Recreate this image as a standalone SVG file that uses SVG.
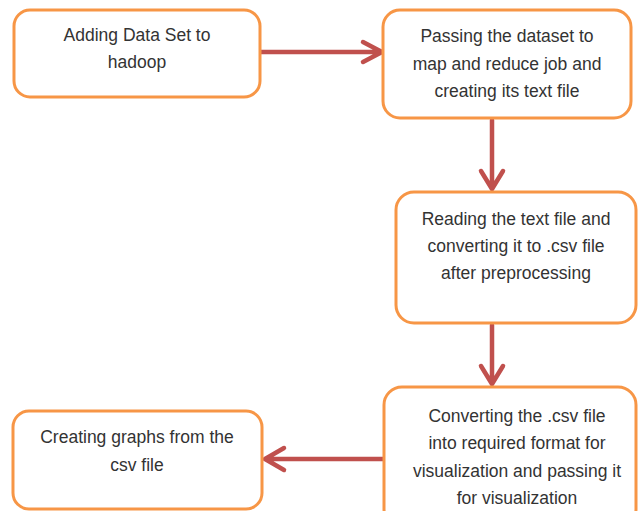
<svg xmlns="http://www.w3.org/2000/svg" width="638" height="511" viewBox="0 0 638 511">
<defs>
<style>
.box{fill:#ffffff;stroke:#F79646;stroke-width:3}
.lbl{font-family:"Liberation Sans",Arial,sans-serif;font-size:17.5px;fill:#333333;text-anchor:middle}
.conn{stroke:#C0504D;stroke-width:4.5;fill:none;stroke-linecap:round;stroke-linejoin:round}
</style>
</defs>
<rect width="638" height="511" fill="#ffffff"/>
<g id="connectors">
<path class="conn" d="M261 52 H381 M363 42 L382 52 L363 62"/>
<path class="conn" d="M492 120 V189 M481 171 L492 189 L503 171"/>
<path class="conn" d="M492 325 V384 M481 366 L492 384 L503 366"/>
<path class="conn" d="M383 459 H266 M284 448 L265 459 L284 470"/>
</g>
<g id="node1">
<rect class="box" x="14" y="10" width="246" height="87" rx="16"/>
<text class="lbl" x="137" y="41">Adding Data Set to</text>
<text class="lbl" x="137" y="68">hadoop</text>
</g>
<g id="node2">
<rect class="box" x="383" y="10" width="248" height="108" rx="17"/>
<text class="lbl" x="507" y="42">Passing the dataset to</text>
<text class="lbl" x="507" y="70">map and reduce job and</text>
<text class="lbl" x="507" y="97">creating its text file</text>
</g>
<g id="node3">
<rect class="box" x="396" y="192" width="240" height="131" rx="18"/>
<text class="lbl" x="516" y="225">Reading the text file and</text>
<text class="lbl" x="516" y="252">converting it to .csv file</text>
<text class="lbl" x="516" y="279">after preprocessing</text>
</g>
<g id="node4">
<rect class="box" x="384" y="387" width="252" height="140" rx="18"/>
<text class="lbl" x="517" y="422">Converting the .csv file</text>
<text class="lbl" x="517" y="449">into required format for</text>
<text class="lbl" x="517" y="477">visualization and passing it</text>
<text class="lbl" x="517" y="504">for visualization</text>
</g>
<g id="node5">
<rect class="box" x="13" y="411" width="249" height="98" rx="16"/>
<text class="lbl" x="137" y="443">Creating graphs from the</text>
<text class="lbl" x="137" y="471">csv file</text>
</g>
</svg>
